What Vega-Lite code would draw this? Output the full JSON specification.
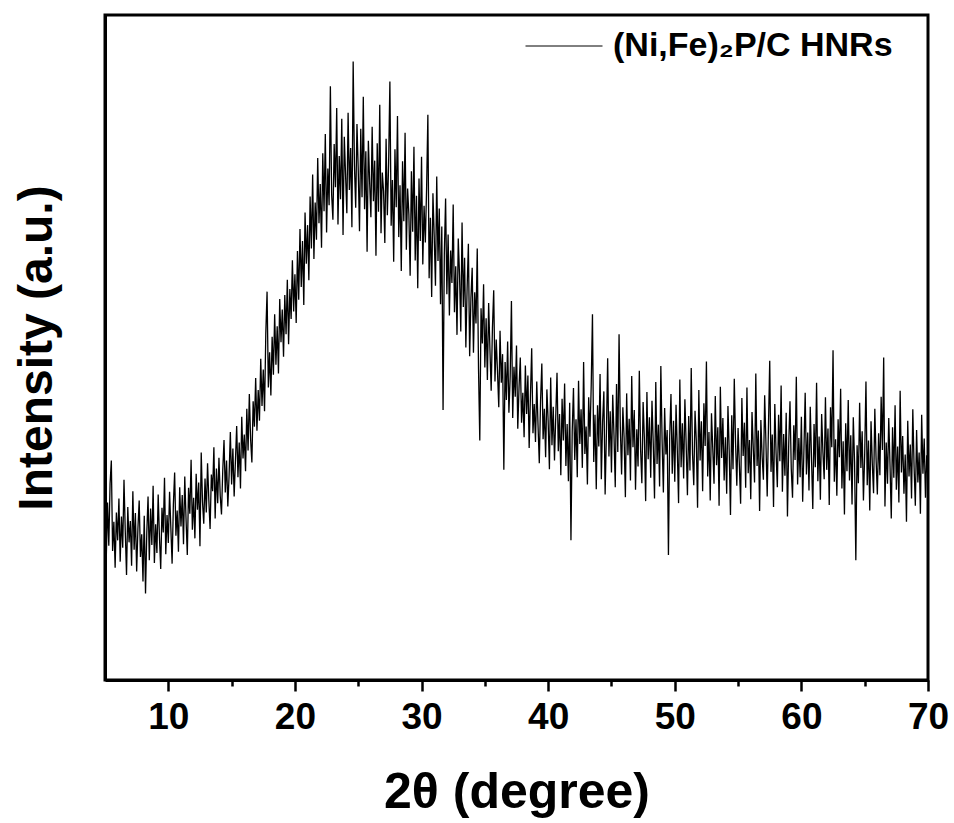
{
"$schema": "https://vega.github.io/schema/vega-lite/v6.json",
"width": 823, "height": 665,
"autosize": "none",
"padding": {"left": 105, "top": 15, "right": 26, "bottom": 143},
"config": {"view": {"stroke": "black", "strokeWidth": 3}, "font": "Liberation Sans"},
"data": {"values": [
{"t":5.0,"i":24.1},{"t":5.1,"i":18.3},{"t":5.2,"i":26.7},{"t":5.3,"i":20.2},{"t":5.4,"i":29.5},{"t":5.5,"i":33.0},{"t":5.6,"i":19.4},{"t":5.7,"i":23.8},{"t":5.8,"i":16.9},{"t":5.9,"i":25.2},
{"t":6.0,"i":21.0},{"t":6.1,"i":27.3},{"t":6.2,"i":17.8},{"t":6.3,"i":24.6},{"t":6.4,"i":19.9},{"t":6.5,"i":30.1},{"t":6.6,"i":22.4},{"t":6.7,"i":15.8},{"t":6.8,"i":26.0},{"t":6.9,"i":20.7},
{"t":7.0,"i":23.9},{"t":7.1,"i":17.2},{"t":7.2,"i":28.4},{"t":7.3,"i":19.6},{"t":7.4,"i":25.1},{"t":7.5,"i":16.3},{"t":7.6,"i":22.8},{"t":7.7,"i":27.0},{"t":7.8,"i":18.5},{"t":7.9,"i":21.9},
{"t":8.0,"i":14.8},{"t":8.1,"i":24.7},{"t":8.2,"i":13.0},{"t":8.3,"i":22.1},{"t":8.4,"i":27.6},{"t":8.5,"i":18.0},{"t":8.6,"i":25.8},{"t":8.7,"i":20.3},{"t":8.8,"i":29.2},{"t":8.9,"i":17.6},
{"t":9.0,"i":23.4},{"t":9.1,"i":19.1},{"t":9.2,"i":27.9},{"t":9.3,"i":21.5},{"t":9.4,"i":16.7},{"t":9.5,"i":25.9},{"t":9.6,"i":22.2},{"t":9.7,"i":30.4},{"t":9.8,"i":18.9},{"t":9.9,"i":24.8},
{"t":10.0,"i":20.6},{"t":10.1,"i":28.3},{"t":10.2,"i":22.9},{"t":10.3,"i":17.5},{"t":10.4,"i":26.4},{"t":10.5,"i":31.2},{"t":10.6,"i":21.7},{"t":10.7,"i":25.5},{"t":10.8,"i":19.3},{"t":10.9,"i":29.0},
{"t":11.0,"i":23.1},{"t":11.1,"i":27.8},{"t":11.2,"i":20.4},{"t":11.3,"i":30.6},{"t":11.4,"i":24.2},{"t":11.5,"i":18.8},{"t":11.6,"i":28.9},{"t":11.7,"i":25.0},{"t":11.8,"i":33.1},{"t":11.9,"i":22.6},
{"t":12.0,"i":27.4},{"t":12.1,"i":21.3},{"t":12.2,"i":31.0},{"t":12.3,"i":25.6},{"t":12.4,"i":29.7},{"t":12.5,"i":20.1},{"t":12.6,"i":34.2},{"t":12.7,"i":26.8},{"t":12.8,"i":23.5},{"t":12.9,"i":30.3},
{"t":13.0,"i":25.2},{"t":13.1,"i":32.6},{"t":13.2,"i":27.1},{"t":13.3,"i":22.7},{"t":13.4,"i":30.9},{"t":13.5,"i":28.4},{"t":13.6,"i":35.0},{"t":13.7,"i":24.3},{"t":13.8,"i":31.8},{"t":13.9,"i":26.6},
{"t":14.0,"i":33.4},{"t":14.1,"i":27.7},{"t":14.2,"i":24.9},{"t":14.3,"i":31.5},{"t":14.4,"i":36.1},{"t":14.5,"i":28.2},{"t":14.6,"i":33.0},{"t":14.7,"i":26.1},{"t":14.8,"i":30.7},{"t":14.9,"i":37.3},
{"t":15.0,"i":29.4},{"t":15.1,"i":34.8},{"t":15.2,"i":27.6},{"t":15.3,"i":32.9},{"t":15.4,"i":38.2},{"t":15.5,"i":30.5},{"t":15.6,"i":35.7},{"t":15.7,"i":28.8},{"t":15.8,"i":39.6},{"t":15.9,"i":33.3},
{"t":16.0,"i":36.9},{"t":16.1,"i":31.4},{"t":16.2,"i":40.8},{"t":16.3,"i":34.5},{"t":16.4,"i":43.0},{"t":16.5,"i":36.2},{"t":16.6,"i":32.7},{"t":16.7,"i":41.9},{"t":16.8,"i":38.1},{"t":16.9,"i":45.4},
{"t":17.0,"i":37.5},{"t":17.1,"i":43.6},{"t":17.2,"i":39.0},{"t":17.3,"i":48.3},{"t":17.4,"i":41.2},{"t":17.5,"i":46.7},{"t":17.6,"i":40.4},{"t":17.7,"i":52.1},{"t":17.8,"i":58.4},{"t":17.9,"i":44.0},
{"t":18.0,"i":49.3},{"t":18.1,"i":42.8},{"t":18.2,"i":51.6},{"t":18.3,"i":45.9},{"t":18.4,"i":55.0},{"t":18.5,"i":47.4},{"t":18.6,"i":53.2},{"t":18.7,"i":46.1},{"t":18.8,"i":57.3},{"t":18.9,"i":50.8},
{"t":19.0,"i":55.7},{"t":19.1,"i":48.6},{"t":19.2,"i":57.9},{"t":19.3,"i":52.0},{"t":19.4,"i":60.2},{"t":19.5,"i":50.5},{"t":19.6,"i":58.8},{"t":19.7,"i":54.3},{"t":19.8,"i":63.1},{"t":19.9,"i":55.4},
{"t":20.0,"i":61.0},{"t":20.1,"i":53.7},{"t":20.2,"i":64.5},{"t":20.3,"i":57.2},{"t":20.4,"i":67.8},{"t":20.5,"i":59.1},{"t":20.6,"i":66.0},{"t":20.7,"i":56.4},{"t":20.8,"i":70.3},{"t":20.9,"i":62.6},
{"t":21.0,"i":68.4},{"t":21.1,"i":60.1},{"t":21.2,"i":72.7},{"t":21.3,"i":64.9},{"t":21.4,"i":76.0},{"t":21.5,"i":63.3},{"t":21.6,"i":71.8},{"t":21.7,"i":66.2},{"t":21.8,"i":78.5},{"t":21.9,"i":68.7},
{"t":22.0,"i":74.6},{"t":22.1,"i":65.0},{"t":22.2,"i":79.2},{"t":22.3,"i":70.5},{"t":22.4,"i":82.1},{"t":22.5,"i":67.3},{"t":22.6,"i":76.9},{"t":22.7,"i":71.4},{"t":22.8,"i":89.3},{"t":22.9,"i":73.0},
{"t":23.0,"i":69.2},{"t":23.1,"i":80.6},{"t":23.2,"i":74.1},{"t":23.3,"i":86.0},{"t":23.4,"i":68.5},{"t":23.5,"i":78.8},{"t":23.6,"i":72.3},{"t":23.7,"i":84.4},{"t":23.8,"i":66.9},{"t":23.9,"i":81.7},
{"t":24.0,"i":75.9},{"t":24.1,"i":70.2},{"t":24.2,"i":85.3},{"t":24.3,"i":73.7},{"t":24.4,"i":80.0},{"t":24.5,"i":68.1},{"t":24.6,"i":93.0},{"t":24.7,"i":77.4},{"t":24.8,"i":71.0},{"t":24.9,"i":83.6},
{"t":25.0,"i":76.8},{"t":25.1,"i":67.5},{"t":25.2,"i":82.9},{"t":25.3,"i":72.6},{"t":25.4,"i":87.7},{"t":25.5,"i":70.8},{"t":25.6,"i":79.5},{"t":25.7,"i":64.4},{"t":25.8,"i":81.1},{"t":25.9,"i":74.9},
{"t":26.0,"i":69.6},{"t":26.1,"i":83.2},{"t":26.2,"i":72.0},{"t":26.3,"i":78.1},{"t":26.4,"i":63.8},{"t":26.5,"i":80.7},{"t":26.6,"i":70.4},{"t":26.7,"i":86.5},{"t":26.8,"i":67.2},{"t":26.9,"i":76.3},
{"t":27.0,"i":73.5},{"t":27.1,"i":65.7},{"t":27.2,"i":81.4},{"t":27.3,"i":69.9},{"t":27.4,"i":77.6},{"t":27.5,"i":90.0},{"t":27.6,"i":68.3},{"t":27.7,"i":75.2},{"t":27.8,"i":62.9},{"t":27.9,"i":79.8},
{"t":28.0,"i":71.1},{"t":28.1,"i":84.8},{"t":28.2,"i":66.6},{"t":28.3,"i":74.4},{"t":28.4,"i":61.5},{"t":28.5,"i":78.0},{"t":28.6,"i":69.0},{"t":28.7,"i":82.3},{"t":28.8,"i":64.7},{"t":28.9,"i":73.9},
{"t":29.0,"i":70.0},{"t":29.1,"i":60.8},{"t":29.2,"i":76.5},{"t":29.3,"i":67.4},{"t":29.4,"i":80.2},{"t":29.5,"i":63.1},{"t":29.6,"i":72.8},{"t":29.7,"i":58.9},{"t":29.8,"i":75.4},{"t":29.9,"i":66.0},
{"t":30.0,"i":78.7},{"t":30.1,"i":62.5},{"t":30.2,"i":71.3},{"t":30.3,"i":65.8},{"t":30.4,"i":74.0},{"t":30.5,"i":85.0},{"t":30.6,"i":60.4},{"t":30.7,"i":69.5},{"t":30.8,"i":57.6},{"t":30.9,"i":73.2},
{"t":31.0,"i":66.8},{"t":31.1,"i":59.3},{"t":31.2,"i":75.7},{"t":31.3,"i":63.0},{"t":31.4,"i":70.9},{"t":31.5,"i":56.5},{"t":31.6,"i":68.2},{"t":31.7,"i":40.6},{"t":31.8,"i":64.1},{"t":31.9,"i":72.4},
{"t":32.0,"i":58.0},{"t":32.1,"i":67.0},{"t":32.2,"i":54.8},{"t":32.3,"i":64.6},{"t":32.4,"i":59.7},{"t":32.5,"i":71.5},{"t":32.6,"i":55.3},{"t":32.7,"i":62.2},{"t":32.8,"i":51.9},{"t":32.9,"i":66.4},
{"t":33.0,"i":60.9},{"t":33.1,"i":52.4},{"t":33.2,"i":68.8},{"t":33.3,"i":56.1},{"t":33.4,"i":63.5},{"t":33.5,"i":50.0},{"t":33.6,"i":59.0},{"t":33.7,"i":65.6},{"t":33.8,"i":48.7},{"t":33.9,"i":57.4},
{"t":34.0,"i":62.0},{"t":34.1,"i":49.2},{"t":34.2,"i":58.3},{"t":34.3,"i":53.6},{"t":34.4,"i":64.9},{"t":34.5,"i":46.8},{"t":34.6,"i":36.0},{"t":34.7,"i":55.9},{"t":34.8,"i":50.6},{"t":34.9,"i":59.5},
{"t":35.0,"i":47.0},{"t":35.1,"i":54.4},{"t":35.2,"i":45.1},{"t":35.3,"i":56.7},{"t":35.4,"i":49.8},{"t":35.5,"i":43.5},{"t":35.6,"i":53.0},{"t":35.7,"i":58.6},{"t":35.8,"i":44.9},{"t":35.9,"i":51.2},
{"t":36.0,"i":46.3},{"t":36.1,"i":41.0},{"t":36.2,"i":52.5},{"t":36.3,"i":44.7},{"t":36.4,"i":49.0},{"t":36.5,"i":31.6},{"t":36.6,"i":47.8},{"t":36.7,"i":42.1},{"t":36.8,"i":50.9},{"t":36.9,"i":40.2},
{"t":37.0,"i":45.6},{"t":37.1,"i":57.0},{"t":37.2,"i":39.4},{"t":37.3,"i":47.1},{"t":37.4,"i":42.6},{"t":37.5,"i":50.3},{"t":37.6,"i":37.8},{"t":37.7,"i":44.0},{"t":37.8,"i":48.5},{"t":37.9,"i":38.7},
{"t":38.0,"i":43.2},{"t":38.1,"i":36.5},{"t":38.2,"i":47.3},{"t":38.3,"i":40.0},{"t":38.4,"i":45.8},{"t":38.5,"i":34.9},{"t":38.6,"i":42.7},{"t":38.7,"i":49.9},{"t":38.8,"i":37.1},{"t":38.9,"i":41.5},
{"t":39.0,"i":35.8},{"t":39.1,"i":44.9},{"t":39.2,"i":38.3},{"t":39.3,"i":32.6},{"t":39.4,"i":42.0},{"t":39.5,"i":47.6},{"t":39.6,"i":36.2},{"t":39.7,"i":40.8},{"t":39.8,"i":33.5},{"t":39.9,"i":43.7},
{"t":40.0,"i":38.9},{"t":40.1,"i":31.7},{"t":40.2,"i":45.5},{"t":40.3,"i":35.3},{"t":40.4,"i":41.1},{"t":40.5,"i":33.0},{"t":40.6,"i":39.6},{"t":40.7,"i":46.2},{"t":40.8,"i":34.4},{"t":40.9,"i":40.0},
{"t":41.0,"i":30.8},{"t":41.1,"i":42.3},{"t":41.2,"i":36.0},{"t":41.3,"i":44.6},{"t":41.4,"i":32.2},{"t":41.5,"i":38.5},{"t":41.6,"i":29.9},{"t":41.7,"i":41.7},{"t":41.8,"i":21.0},{"t":41.9,"i":37.4},
{"t":42.0,"i":43.9},{"t":42.1,"i":33.1},{"t":42.2,"i":39.2},{"t":42.3,"i":30.5},{"t":42.4,"i":45.0},{"t":42.5,"i":35.5},{"t":42.6,"i":40.7},{"t":42.7,"i":31.9},{"t":42.8,"i":47.8},{"t":42.9,"i":34.0},
{"t":43.0,"i":38.1},{"t":43.1,"i":29.4},{"t":43.2,"i":42.5},{"t":43.3,"i":36.6},{"t":43.4,"i":44.2},{"t":43.5,"i":55.0},{"t":43.6,"i":32.8},{"t":43.7,"i":39.9},{"t":43.8,"i":28.7},{"t":43.9,"i":41.3},
{"t":44.0,"i":35.1},{"t":44.1,"i":46.0},{"t":44.2,"i":30.2},{"t":44.3,"i":38.8},{"t":44.4,"i":43.4},{"t":44.5,"i":27.9},{"t":44.6,"i":37.0},{"t":44.7,"i":48.4},{"t":44.8,"i":33.6},{"t":44.9,"i":40.4},
{"t":45.0,"i":31.2},{"t":45.1,"i":42.9},{"t":45.2,"i":36.8},{"t":45.3,"i":29.0},{"t":45.4,"i":44.5},{"t":45.5,"i":34.3},{"t":45.6,"i":52.0},{"t":45.7,"i":38.0},{"t":45.8,"i":30.9},{"t":45.9,"i":41.0},
{"t":46.0,"i":36.4},{"t":46.1,"i":27.5},{"t":46.2,"i":43.1},{"t":46.3,"i":33.8},{"t":46.4,"i":39.3},{"t":46.5,"i":30.0},{"t":46.6,"i":45.7},{"t":46.7,"i":35.0},{"t":46.8,"i":40.6},{"t":46.9,"i":28.6},
{"t":47.0,"i":37.7},{"t":47.1,"i":32.1},{"t":47.2,"i":46.5},{"t":47.3,"i":34.7},{"t":47.4,"i":29.6},{"t":47.5,"i":41.8},{"t":47.6,"i":36.3},{"t":47.7,"i":26.9},{"t":47.8,"i":43.3},{"t":47.9,"i":33.2},
{"t":48.0,"i":39.5},{"t":48.1,"i":30.4},{"t":48.2,"i":42.0},{"t":48.3,"i":35.6},{"t":48.4,"i":27.3},{"t":48.5,"i":44.8},{"t":48.6,"i":32.5},{"t":48.7,"i":38.4},{"t":48.8,"i":29.1},{"t":48.9,"i":47.2},
{"t":49.0,"i":35.9},{"t":49.1,"i":28.2},{"t":49.2,"i":40.9},{"t":49.3,"i":33.9},{"t":49.4,"i":37.6},{"t":49.5,"i":18.8},{"t":49.6,"i":36.7},{"t":49.7,"i":43.0},{"t":49.8,"i":31.0},{"t":49.9,"i":39.0},
{"t":50.0,"i":29.8},{"t":50.1,"i":41.4},{"t":50.2,"i":34.6},{"t":50.3,"i":26.6},{"t":50.4,"i":45.2},{"t":50.5,"i":32.0},{"t":50.6,"i":38.6},{"t":50.7,"i":30.3},{"t":50.8,"i":42.2},{"t":50.9,"i":35.4},
{"t":51.0,"i":27.8},{"t":51.1,"i":39.7},{"t":51.2,"i":31.5},{"t":51.3,"i":46.9},{"t":51.4,"i":34.1},{"t":51.5,"i":29.3},{"t":51.6,"i":40.5},{"t":51.7,"i":36.0},{"t":51.8,"i":25.9},{"t":51.9,"i":43.6},
{"t":52.0,"i":33.0},{"t":52.1,"i":38.9},{"t":52.2,"i":28.4},{"t":52.3,"i":41.6},{"t":52.4,"i":35.2},{"t":52.5,"i":47.9},{"t":52.6,"i":30.6},{"t":52.7,"i":37.3},{"t":52.8,"i":27.0},{"t":52.9,"i":40.1},
{"t":53.0,"i":34.8},{"t":53.1,"i":29.5},{"t":53.2,"i":42.7},{"t":53.3,"i":32.3},{"t":53.4,"i":38.0},{"t":53.5,"i":26.2},{"t":53.6,"i":44.1},{"t":53.7,"i":33.4},{"t":53.8,"i":39.4},{"t":53.9,"i":30.0},
{"t":54.0,"i":36.5},{"t":54.1,"i":28.0},{"t":54.2,"i":41.2},{"t":54.3,"i":34.4},{"t":54.4,"i":24.8},{"t":54.5,"i":39.8},{"t":54.6,"i":31.7},{"t":54.7,"i":45.3},{"t":54.8,"i":35.8},{"t":54.9,"i":29.2},
{"t":55.0,"i":37.9},{"t":55.1,"i":32.4},{"t":55.2,"i":26.5},{"t":55.3,"i":42.4},{"t":55.4,"i":33.7},{"t":55.5,"i":38.7},{"t":55.6,"i":28.9},{"t":55.7,"i":44.0},{"t":55.8,"i":31.1},{"t":55.9,"i":36.1},
{"t":56.0,"i":27.2},{"t":56.1,"i":40.3},{"t":56.2,"i":34.9},{"t":56.3,"i":29.7},{"t":56.4,"i":46.1},{"t":56.5,"i":32.2},{"t":56.6,"i":37.5},{"t":56.7,"i":25.4},{"t":56.8,"i":39.1},{"t":56.9,"i":33.6},
{"t":57.0,"i":30.1},{"t":57.1,"i":42.8},{"t":57.2,"i":35.7},{"t":57.3,"i":27.6},{"t":57.4,"i":38.2},{"t":57.5,"i":48.0},{"t":57.6,"i":31.3},{"t":57.7,"i":36.9},{"t":57.8,"i":26.0},{"t":57.9,"i":41.5},
{"t":58.0,"i":34.2},{"t":58.1,"i":29.0},{"t":58.2,"i":39.9},{"t":58.3,"i":32.9},{"t":58.4,"i":44.3},{"t":58.5,"i":28.3},{"t":58.6,"i":37.0},{"t":58.7,"i":30.7},{"t":58.8,"i":40.2},{"t":58.9,"i":24.6},
{"t":59.0,"i":35.5},{"t":59.1,"i":41.9},{"t":59.2,"i":31.8},{"t":59.3,"i":27.4},{"t":59.4,"i":38.3},{"t":59.5,"i":33.1},{"t":59.6,"i":45.6},{"t":59.7,"i":29.4},{"t":59.8,"i":36.4},{"t":59.9,"i":30.5},
{"t":60.0,"i":39.6},{"t":60.1,"i":26.8},{"t":60.2,"i":34.5},{"t":60.3,"i":43.2},{"t":60.4,"i":30.9},{"t":60.5,"i":37.2},{"t":60.6,"i":28.5},{"t":60.7,"i":41.1},{"t":60.8,"i":33.3},{"t":60.9,"i":25.7},
{"t":61.0,"i":38.5},{"t":61.1,"i":32.0},{"t":61.2,"i":44.7},{"t":61.3,"i":29.9},{"t":61.4,"i":36.6},{"t":61.5,"i":27.1},{"t":61.6,"i":40.0},{"t":61.7,"i":34.3},{"t":61.8,"i":30.2},{"t":61.9,"i":42.5},
{"t":62.0,"i":31.6},{"t":62.1,"i":37.8},{"t":62.2,"i":26.3},{"t":62.3,"i":41.0},{"t":62.4,"i":35.0},{"t":62.5,"i":49.6},{"t":62.6,"i":29.8},{"t":62.7,"i":36.2},{"t":62.8,"i":27.7},{"t":62.9,"i":39.2},
{"t":63.0,"i":33.5},{"t":63.1,"i":43.8},{"t":63.2,"i":28.8},{"t":63.3,"i":35.9},{"t":63.4,"i":24.9},{"t":63.5,"i":38.6},{"t":63.6,"i":31.4},{"t":63.7,"i":42.1},{"t":63.8,"i":30.0},{"t":63.9,"i":36.8},
{"t":64.0,"i":26.4},{"t":64.1,"i":39.5},{"t":64.2,"i":32.7},{"t":64.3,"i":18.0},{"t":64.4,"i":35.3},{"t":64.5,"i":29.6},{"t":64.6,"i":41.7},{"t":64.7,"i":31.9},{"t":64.8,"i":37.4},{"t":64.9,"i":27.0},
{"t":65.0,"i":34.0},{"t":65.1,"i":44.9},{"t":65.2,"i":29.3},{"t":65.3,"i":36.0},{"t":65.4,"i":25.5},{"t":65.5,"i":38.9},{"t":65.6,"i":32.6},{"t":65.7,"i":28.1},{"t":65.8,"i":40.8},{"t":65.9,"i":33.2},
{"t":66.0,"i":27.9},{"t":66.1,"i":37.1},{"t":66.2,"i":30.8},{"t":66.3,"i":42.6},{"t":66.4,"i":34.6},{"t":66.5,"i":48.5},{"t":66.6,"i":26.1},{"t":66.7,"i":35.7},{"t":66.8,"i":29.5},{"t":66.9,"i":39.4},
{"t":67.0,"i":32.3},{"t":67.1,"i":24.3},{"t":67.2,"i":38.0},{"t":67.3,"i":30.4},{"t":67.4,"i":41.3},{"t":67.5,"i":28.6},{"t":67.6,"i":35.1},{"t":67.7,"i":26.7},{"t":67.8,"i":43.5},{"t":67.9,"i":31.2},
{"t":68.0,"i":36.7},{"t":68.1,"i":28.0},{"t":68.2,"i":33.9},{"t":68.3,"i":23.8},{"t":68.4,"i":39.0},{"t":68.5,"i":30.6},{"t":68.6,"i":35.4},{"t":68.7,"i":27.3},{"t":68.8,"i":40.7},{"t":68.9,"i":32.1},
{"t":69.0,"i":26.2},{"t":69.1,"i":37.6},{"t":69.2,"i":29.7},{"t":69.3,"i":34.2},{"t":69.4,"i":25.0},{"t":69.5,"i":39.9},{"t":69.6,"i":31.0},{"t":69.7,"i":36.3},{"t":69.8,"i":27.4},{"t":69.9,"i":33.8},
{"t":70.0,"i":30.0}
]},
"layer": [
{
"mark": {"type": "line", "strokeWidth": 1.3, "clip": true, "color": "black"},
"encoding": {
"x": {"field": "t", "type": "quantitative",
 "scale": {"domain": [5, 70], "nice": false, "zero": false},
 "axis": {"orient": "bottom", "values": [10, 20, 30, 40, 50, 60, 70], "grid": false,
  "title": "2θ (degree)", "titleFontSize": 50, "titleFontWeight": "bold", "titleColor": "black", "titlePadding": 32, "titleFont": "Liberation Sans",
  "labelFontSize": 37, "labelFontWeight": "bold", "labelColor": "black", "labelPadding": 8, "labelFont": "Liberation Sans",
  "tickSize": 11, "tickWidth": 2.5, "tickColor": "black", "domainColor": "black", "domainWidth": 3, "labelFlush": false}},
"y": {"field": "i", "type": "quantitative",
 "scale": {"domain": [0, 100], "nice": false},
 "axis": {"title": "Intensity (a.u.)", "titleFontSize": 48, "titleFontWeight": "bold", "titleColor": "black", "titlePadding": 44, "titleFont": "Liberation Sans",
  "labels": false, "ticks": false, "grid": false, "domainColor": "black", "domainWidth": 3}},
"color": {"datum": "(Ni,Fe)₂P/C HNRs", "type": "nominal",
 "scale": {"range": ["black"]},
 "legend": {"title": null, "orient": "none", "legendX": 420, "legendY": -8, "symbolType": "stroke", "symbolSize": 5929, "symbolStrokeWidth": 1,
  "labelFontSize": 34, "labelFontWeight": "bold", "labelColor": "black", "labelFont": "Liberation Sans", "labelOffset": 10, "padding": 0, "labelLimit": 500}}
}
},
{
"mark": {"type": "rule", "opacity": 0},
"encoding": {
"x": {"field": "t", "type": "quantitative",
 "axis": {"orient": "bottom", "values": [15, 25, 35, 45, 55, 65], "labels": false, "title": null, "grid": false, "domain": false,
  "tickSize": 6, "tickWidth": 2.5, "tickColor": "black"}}
}
}
],
"resolve": {"axis": {"x": "independent"}}
}
